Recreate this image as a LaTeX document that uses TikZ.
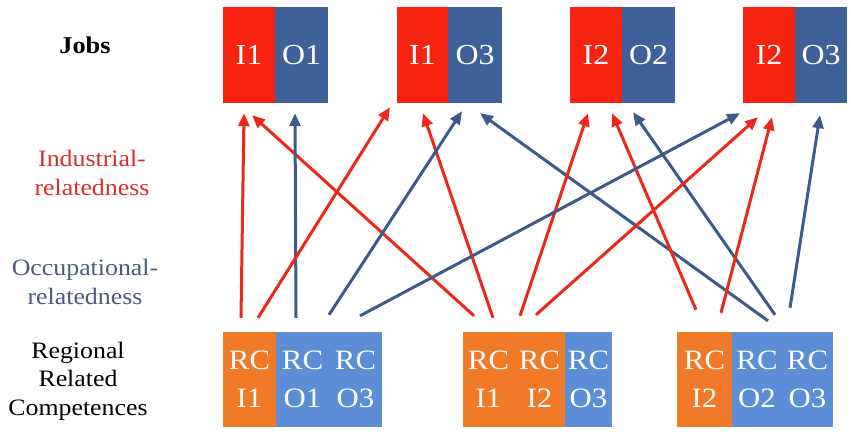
\documentclass[tikz,border=0pt]{standalone}
\usepackage{fontspec}
\setmainfont{Liberation Serif}[FakeStretch=1.1]
\usetikzlibrary{arrows.meta}
\definecolor{jred}{RGB}{245,35,15}
\definecolor{jblue}{RGB}{64,96,154}
\definecolor{rcorange}{RGB}{240,122,40}
\definecolor{rcblue}{RGB}{92,142,216}
\definecolor{ared}{RGB}{235,40,25}
\definecolor{ablue}{RGB}{60,90,140}
\definecolor{indred}{RGB}{215,45,45}
\definecolor{occblue}{RGB}{75,90,125}
\tikzset{
  jobbox/.style={minimum height=96pt,inner sep=0pt,text=white,font=\fontsize{29}{32}\selectfont},
  rcbox/.style={minimum height=95pt,inner sep=0pt,text=white,align=center,font=\fontsize{28}{38}\selectfont},
  lab/.style={align=center,inner sep=0pt,font=\fontsize{23.5}{28.5}\selectfont},
  iarr/.style={ared,line width=3pt,-{Triangle[length=13pt,width=11pt]}},
  oarr/.style={ablue,line width=3pt,-{Triangle[length=13pt,width=11pt]}}
}
\begin{document}
\begin{tikzpicture}[x=1pt,y=-1pt]
\useasboundingbox (0,0) rectangle (851,440);
% left labels
\node[lab,font=\fontsize{24}{28}\selectfont\bfseries] (jobs) at (85,45) {Jobs};
\node[lab,text=indred] (ind) at (92,173) {Industrial-\\relatedness};
\node[lab,text=occblue] (occ) at (85,282) {Occupational-\\relatedness};
\node[lab] (rrc) at (78,381) {Regional\\Related\\Competences};
% jobs
\node[jobbox,fill=jred,minimum width=52pt] (j1i) at (249,55) {I1};
\node[jobbox,fill=jblue,minimum width=53pt] (j1o) at (301.5,55) {O1};
\node[jobbox,fill=jred,minimum width=51pt] (j2i) at (422.5,55) {I1};
\node[jobbox,fill=jblue,minimum width=54pt] (j2o) at (475,55) {O3};
\node[jobbox,fill=jred,minimum width=52pt] (j3i) at (596,55) {I2};
\node[jobbox,fill=jblue,minimum width=53pt] (j3o) at (648.5,55) {O2};
\node[jobbox,fill=jred,minimum width=52pt] (j4i) at (769,55) {I2};
\node[jobbox,fill=jblue,minimum width=52pt] (j4o) at (821,55) {O3};
% regional related competences
\node[rcbox,fill=rcorange,minimum width=53pt] (g1i1) at (249.5,379.5) {RC\\I1};
\node[rcbox,fill=rcblue,minimum width=53pt] (g1o1) at (302.5,379.5) {RC\\O1};
\node[rcbox,fill=rcblue,minimum width=53pt] (g1o3) at (355.5,379.5) {RC\\O3};
\node[rcbox,fill=rcorange,minimum width=51pt] (g2i1) at (488.5,379.5) {RC\\I1};
\node[rcbox,fill=rcorange,minimum width=51pt] (g2i2) at (539.5,379.5) {RC\\I2};
\node[rcbox,fill=rcblue,minimum width=47pt] (g2o3) at (588.5,379.5) {RC\\O3};
\node[rcbox,fill=rcorange,minimum width=55pt] (g3i2) at (704.5,379.5) {RC\\I2};
\node[rcbox,fill=rcblue,minimum width=50pt] (g3o2) at (757,379.5) {RC\\O2};
\node[rcbox,fill=rcblue,minimum width=51pt] (g3o3) at (807.5,379.5) {RC\\O3};
% connectors
\draw[iarr] ([xshift=-8.5pt,yshift=14pt]g1i1.north) -- ([xshift=-5pt,yshift=-10pt]j1i.south);
\draw[iarr] ([xshift=-14.5pt,yshift=16pt]g2i1.north) -- ([xshift=3pt,yshift=-12pt]j1i.south);
\draw[oarr] ([xshift=-6.5pt,yshift=14pt]g1o1.north) -- ([xshift=-6.5pt,yshift=-10pt]j1o.south);
\draw[iarr] ([xshift=8.5pt,yshift=14pt]g1i1.north) -- ([xshift=-32.5pt,yshift=-4pt]j2i.south);
\draw[iarr] ([xshift=4.5pt,yshift=14pt]g2i1.north) -- ([xshift=0.5pt,yshift=-10pt]j2i.south);
\draw[oarr] ([xshift=-26.5pt,yshift=17pt]g1o3.north) -- ([xshift=-13pt,yshift=-8pt]j2o.south);
\draw[oarr] ([xshift=-39.5pt,yshift=11pt]g3o3.north) -- ([xshift=5pt,yshift=-10pt]j2o.south);
\draw[iarr] ([xshift=-19.5pt,yshift=16pt]g2i2.north) -- ([xshift=-8pt,yshift=-10pt]j3i.south);
\draw[iarr] ([xshift=-8.5pt,yshift=22pt]g3i2.north) -- ([xshift=16pt,yshift=-10pt]j3i.south);
\draw[oarr] ([xshift=18pt,yshift=17pt]g3o2.north) -- ([xshift=-15.5pt,yshift=-9pt]j3o.south);
\draw[oarr] ([xshift=4.5pt,yshift=16pt]g1o3.north) -- ([xshift=-29pt,yshift=-10pt]j4i.south);
\draw[iarr] ([xshift=-3.5pt,yshift=17pt]g2i2.north) -- ([xshift=-11pt,yshift=-14pt]j4i.south);
\draw[iarr] ([xshift=16.5pt,yshift=19pt]g3i2.north) -- ([xshift=3pt,yshift=-14pt]j4i.south);
\draw[oarr] ([xshift=-17.5pt,yshift=24pt]g3o3.north) -- ([xshift=-1pt,yshift=-12pt]j4o.south);
\end{tikzpicture}
\end{document}
